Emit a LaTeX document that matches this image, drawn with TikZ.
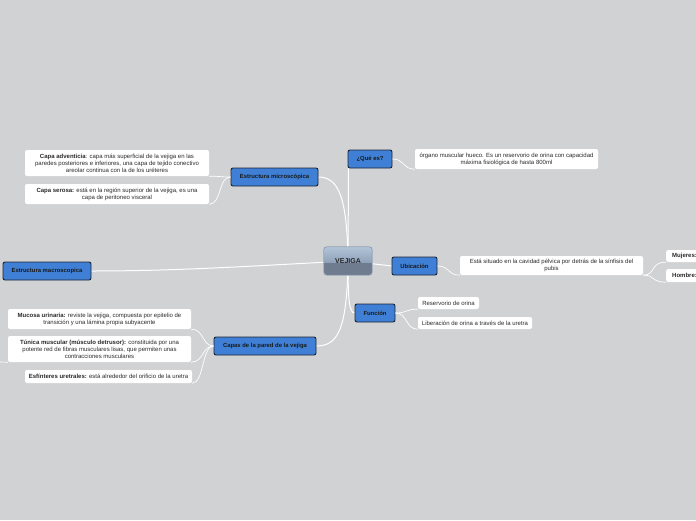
\documentclass[tikz,border=0pt]{standalone}
\usepackage{fontspec}
\setmainfont{Liberation Sans}
\usetikzlibrary{calc}
\definecolor{bg}{HTML}{D1D2D4}
\definecolor{topic}{HTML}{3F80D6}
\definecolor{topicline}{HTML}{1C2330}
\definecolor{vejtop}{HTML}{B2C4D8}
\definecolor{vejmid}{HTML}{8EA0B6}
\definecolor{vejbot}{HTML}{6F7C8F}
\definecolor{vejline}{HTML}{95A3B5}
\definecolor{txt}{HTML}{2A2A2A}
\tikzset{
  topicbox/.style={draw=topicline, fill=topic, line width=0.9pt, rounded corners=2pt,
    inner sep=0pt, align=center, font=\fontsize{5.9}{7}\selectfont\bfseries, text=black!90},
  leafbox/.style={fill=white, rounded corners=2pt, inner sep=0pt, align=center,
    font=\fontsize{6}{7}\selectfont, text=txt},
  conn/.style={draw=white, line width=1pt},
  thin/.style={draw=white, line width=0.7pt}
}
\begin{document}
\begin{tikzpicture}[x=1pt,y=-1pt]
\fill[bg] (0,0) rectangle (696,520);
\useasboundingbox (0,0) rectangle (696,520);
\begin{scope}
\clip (0,0) rectangle (696,520);
% coordinates
\coordinate (vc) at (348,261);
% main connectors (drawn first)
\draw[conn] (vc) -- (348.5,168);
\draw[conn] (vc) .. controls (347,195) and (338,177) .. (318,177);
\draw[conn] (vc) .. controls (347,330) and (338,346) .. (316,346);
\draw[conn] (vc) .. controls (348,300) and (349,313) .. (355,313);
\draw[conn] (vc) -- (392,266);
\draw[conn] (vc) .. controls (250,266) and (180,271) .. (91,271);

% topics
\node[topicbox, minimum width=44pt, minimum height=18pt] (que) at (370,159) {¿Qué es?};
\node[topicbox, minimum width=87pt, minimum height=18pt] (micro) at (274.5,177) {Estructura microscópica};
\node[topicbox, minimum width=88pt, minimum height=18pt] (macro) at (47,271) {Estructura macroscopica};
\node[topicbox, minimum width=45pt, minimum height=18pt] (ubi) at (414.5,266) {Ubicación};
\node[topicbox, minimum width=40pt, minimum height=18pt] (func) at (375,313) {Función};
\node[topicbox, minimum width=102pt, minimum height=18pt] (capas) at (265,346) {Capas de la pared de la vejiga};

% central node
\node[minimum width=48pt, minimum height=28pt, inner sep=0pt] (vej) at (vc) {};
\begin{scope}
\clip[rounded corners=3pt] (vej.north west) rectangle (vej.south east);
\fill[top color=vejtop, bottom color=vejmid] (vej.north west) rectangle ($(vej.east)+(0,2)$);
\fill[vejbot] ($(vej.west)+(0,2)$) rectangle (vej.south east);
\end{scope}
\draw[vejline, line width=0.8pt, rounded corners=3pt] (vej.north west) rectangle (vej.south east);
\node[font=\fontsize{7}{8}\selectfont\bfseries, text=black!85] at (vc) {VEJIGA};

% leaves
\node[leafbox, minimum width=183pt, minimum height=20pt] (queL) at (506.5,159)
  {órgano muscular hueco. Es un reservorio de orina con capacidad\\máxima fisiológica de hasta 800ml};
\node[leafbox, minimum width=184pt, minimum height=26pt] (adv) at (117,163)
  {\textbf{Capa adventicia}: capa más superficial de la vejiga en las\\paredes posteriores e inferiores, una capa de tejido conectivo\\areolar continua con la de los uréteres};
\node[leafbox, minimum width=184pt, minimum height=20pt] (ser) at (117,194)
  {\textbf{Capa serosa:} está en la región superior de la vejiga, es una\\capa de peritoneo visceral};
\node[leafbox, minimum width=183pt, minimum height=19pt] (sit) at (551.5,265.5)
  {Está situado en la cavidad pélvica por detrás de la sínfisis del\\pubis};
\node[leafbox, minimum width=60pt, minimum height=12pt, anchor=west, text width=56pt, align=left] (muj) at (666,256)
  {\hspace*{4pt}\textbf{Mujeres:}};
\node[leafbox, minimum width=60pt, minimum height=13pt, anchor=west, text width=56pt, align=left] (hom) at (666,275.5)
  {\hspace*{4pt}\textbf{Hombre:}};
\node[leafbox, minimum width=61pt, minimum height=12pt] (res) at (448.5,303) {Reservorio de orina};
\node[leafbox, minimum width=114pt, minimum height=12pt] (lib) at (475,323) {Liberación de orina a través de la uretra};
\node[leafbox, minimum width=183pt, minimum height=20pt] (muc) at (99.5,319)
  {\textbf{Mucosa urinaria:} reviste la vejiga, compuesta por epitelio de\\transición y una lámina propia subyacente};
\node[leafbox, minimum width=183pt, minimum height=26pt] (tun) at (99.5,349)
  {\textbf{Túnica muscular (músculo detrusor):} constituida por una\\potente red de fibras musculares lisas, que permiten unas\\contracciones musculares};
\node[leafbox, minimum width=167pt, minimum height=13pt] (esf) at (108.5,376.5)
  {\textbf{Esfínteres uretrales:} está alrededor del orificio de la uretra};

% leaf connectors
\draw[thin] (que.east) .. controls (405,159) and (402,169) .. (queL.south west);
\draw[thin] (micro.west) .. controls (220,177) and (218,176) .. (adv.south east);
\draw[thin] (micro.west) .. controls (218,177) and (222,204) .. (ser.south east);
\draw[thin] (ubi.east) .. controls (450,266) and (447,275) .. (sit.south west);
\draw[thin] (sit.south east) .. controls (656,275) and (650,262) .. (muj.south west);
\draw[thin] (sit.south east) .. controls (656,275) and (650,282) .. (hom.south west);
\draw[thin] (func.east) .. controls (408,313) and (405,309) .. (res.south west);
\draw[thin] (func.east) .. controls (408,313) and (405,329) .. (lib.south west);
\draw[thin] (capas.west) .. controls (202,346) and (204,329) .. (muc.south east);
\draw[thin] (capas.west) .. controls (202,346) and (204,362) .. (tun.south east);
\draw[thin] (capas.west) .. controls (202,346) and (204,383) .. (esf.south east);
\coordinate (tunend) at (0,362);
\draw[thin] (tun.south west) -- (tunend);
\end{scope}
\end{tikzpicture}
\end{document}
